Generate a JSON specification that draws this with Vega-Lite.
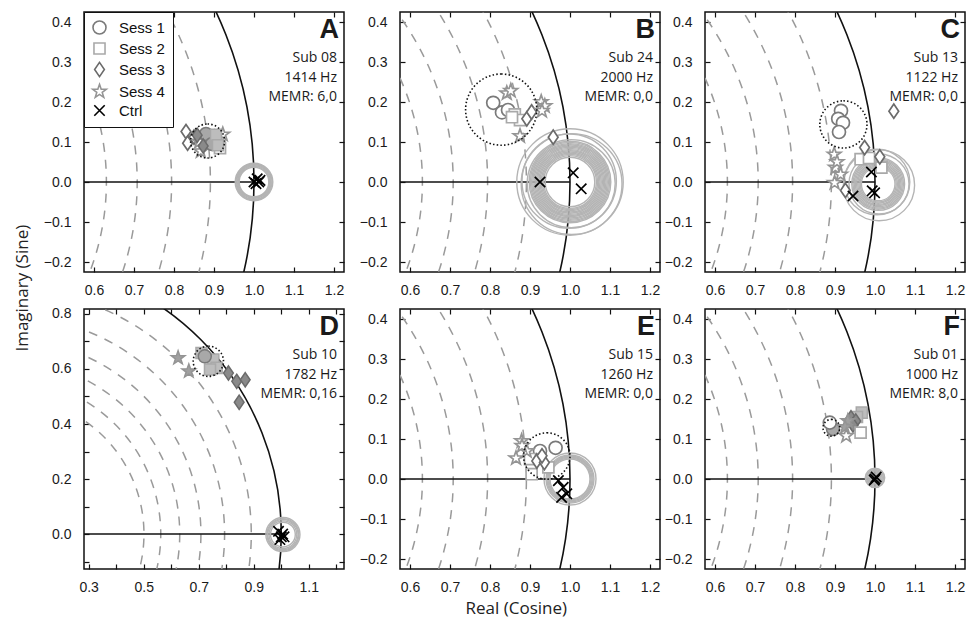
{
"$schema":"https://vega.github.io/schema/vega-lite/v6.json",
"padding":{"left":14,"top":10,"right":1,"bottom":2},
"background":"white",
"datasets":{
"levels":[{"cx":0,"cy":0,"r":0.501},{"cx":0,"cy":0,"r":0.562},{"cx":0,"cy":0,"r":0.631},{"cx":0,"cy":0,"r":0.708},{"cx":0,"cy":0,"r":0.794},{"cx":0,"cy":0,"r":0.891}],
"unit":[{"cx":0,"cy":0,"r":1}],
"axisline":[{"x":0,"x2":1,"y":0}],
"ci":[
{"panel":"A","cx":1.0,"cy":0.0,"r":0.037},{"panel":"A","cx":1.0,"cy":0.0,"r":0.039},{"panel":"A","cx":1.0,"cy":0.0,"r":0.041},{"panel":"A","cx":1.0,"cy":0.0,"r":0.043},{"panel":"A","cx":1.0,"cy":0.0,"r":0.045},{"panel":"A","cx":1.0,"cy":0.0,"r":0.047},
{"panel":"B","cx":1.0,"cy":0.0,"r":0.062},{"panel":"B","cx":1.0,"cy":0.0,"r":0.066},{"panel":"B","cx":1.0,"cy":0.0,"r":0.069},{"panel":"B","cx":1.0,"cy":0.0,"r":0.072},{"panel":"B","cx":1.0,"cy":0.0,"r":0.075},{"panel":"B","cx":1.0,"cy":0.0,"r":0.078},{"panel":"B","cx":1.0,"cy":0.0,"r":0.081},{"panel":"B","cx":1.0,"cy":0.0,"r":0.084},{"panel":"B","cx":1.0,"cy":0.0,"r":0.087},{"panel":"B","cx":1.0,"cy":0.0,"r":0.09},{"panel":"B","cx":1.0,"cy":0.0,"r":0.093},{"panel":"B","cx":1.0,"cy":0.0,"r":0.096},{"panel":"B","cx":1.0,"cy":0.0,"r":0.099},{"panel":"B","cx":1.0,"cy":0.0,"r":0.102},{"panel":"B","cx":1.003,"cy":-0.004,"r":0.11},{"panel":"B","cx":0.998,"cy":0.002,"r":0.118},{"panel":"B","cx":1.004,"cy":-0.005,"r":0.126},{"panel":"B","cx":1.0,"cy":0.0,"r":0.133},
{"panel":"C","cx":1.008,"cy":-0.005,"r":0.042},{"panel":"C","cx":1.008,"cy":-0.005,"r":0.045},{"panel":"C","cx":1.008,"cy":-0.005,"r":0.048},{"panel":"C","cx":1.008,"cy":-0.005,"r":0.051},{"panel":"C","cx":1.008,"cy":-0.005,"r":0.054},{"panel":"C","cx":1.008,"cy":-0.005,"r":0.057},{"panel":"C","cx":1.008,"cy":-0.005,"r":0.06},{"panel":"C","cx":1.008,"cy":-0.005,"r":0.063},{"panel":"C","cx":1.008,"cy":-0.005,"r":0.066},{"panel":"C","cx":1.01,"cy":-0.005,"r":0.075},{"panel":"C","cx":1.005,"cy":0.0,"r":0.082},{"panel":"C","cx":1.01,"cy":-0.008,"r":0.089},
{"panel":"D","cx":1.006,"cy":-0.002,"r":0.045},{"panel":"D","cx":1.006,"cy":-0.002,"r":0.05},{"panel":"D","cx":1.006,"cy":-0.002,"r":0.055},{"panel":"D","cx":1.006,"cy":-0.002,"r":0.058},{"panel":"D","cx":1.006,"cy":-0.002,"r":0.062},
{"panel":"E","cx":1.0,"cy":0.0,"r":0.05},{"panel":"E","cx":1.0,"cy":0.0,"r":0.0525},{"panel":"E","cx":1.0,"cy":0.0,"r":0.055},{"panel":"E","cx":1.0,"cy":0.0,"r":0.0575},{"panel":"E","cx":1.0,"cy":0.0,"r":0.06},{"panel":"E","cx":1.0,"cy":0.0,"r":0.065},
{"panel":"F","cx":1.0,"cy":0.003,"r":0.003},{"panel":"F","cx":1.0,"cy":0.003,"r":0.006},{"panel":"F","cx":1.0,"cy":0.003,"r":0.009},{"panel":"F","cx":1.0,"cy":0.003,"r":0.012},{"panel":"F","cx":1.0,"cy":0.003,"r":0.015},{"panel":"F","cx":1.0,"cy":0.003,"r":0.018},{"panel":"F","cx":1.0,"cy":0.003,"r":0.021},{"panel":"F","cx":1.0,"cy":0.003,"r":0.024}
],
"conf":[
{"panel":"A","cx":0.884,"cy":0.1025,"r":0.0425},
{"panel":"B","cx":0.828,"cy":0.181,"r":0.089},
{"panel":"C","cx":0.921,"cy":0.144,"r":0.059},
{"panel":"D","cx":0.735,"cy":0.628,"r":0.055},
{"panel":"E","cx":0.942,"cy":0.0575,"r":0.058},
{"panel":"F","cx":0.891,"cy":0.128,"r":0.021}
],
"pts":[
{"panel":"A","sess":"Sess 3","re":0.83,"im":0.126,"memr":"no"},
{"panel":"A","sess":"Sess 3","re":0.834,"im":0.097,"memr":"no"},
{"panel":"A","sess":"Sess 3","re":0.85,"im":0.112,"memr":"no"},
{"panel":"A","sess":"Sess 2","re":0.915,"im":0.085,"memr":"no"},
{"panel":"A","sess":"Sess 4","re":0.863,"im":0.101,"memr":"no"},
{"panel":"A","sess":"Sess 4","re":0.901,"im":0.111,"memr":"no"},
{"panel":"A","sess":"Sess 4","re":0.867,"im":0.077,"memr":"no"},
{"panel":"A","sess":"Sess 4","re":0.922,"im":0.119,"memr":"no"},
{"panel":"A","sess":"Sess 1","re":0.88,"im":0.12,"memr":"yes"},
{"panel":"A","sess":"Sess 1","re":0.895,"im":0.095,"memr":"yes"},
{"panel":"A","sess":"Sess 2","re":0.905,"im":0.118,"memr":"yes"},
{"panel":"A","sess":"Sess 2","re":0.91,"im":0.092,"memr":"yes"},
{"panel":"A","sess":"Sess 3","re":0.858,"im":0.117,"memr":"yes"},
{"panel":"A","sess":"Sess 3","re":0.873,"im":0.09,"memr":"yes"},
{"panel":"A","sess":"Ctrl","re":1.0,"im":0.0,"memr":"no"},
{"panel":"A","sess":"Ctrl","re":1.008,"im":0.008,"memr":"no"},
{"panel":"A","sess":"Ctrl","re":1.015,"im":0.004,"memr":"no"},
{"panel":"A","sess":"Ctrl","re":1.005,"im":-0.004,"memr":"no"},
{"panel":"A","sess":"Ctrl","re":1.012,"im":0.0,"memr":"no"},
{"panel":"B","sess":"Sess 1","re":0.808,"im":0.198,"memr":"no"},
{"panel":"B","sess":"Sess 1","re":0.83,"im":0.174,"memr":"no"},
{"panel":"B","sess":"Sess 1","re":0.845,"im":0.18,"memr":"no"},
{"panel":"B","sess":"Sess 2","re":0.862,"im":0.169,"memr":"no"},
{"panel":"B","sess":"Sess 2","re":0.875,"im":0.155,"memr":"no"},
{"panel":"B","sess":"Sess 2","re":0.855,"im":0.162,"memr":"no"},
{"panel":"B","sess":"Sess 3","re":0.892,"im":0.158,"memr":"no"},
{"panel":"B","sess":"Sess 3","re":0.904,"im":0.175,"memr":"no"},
{"panel":"B","sess":"Sess 3","re":0.958,"im":0.112,"memr":"no"},
{"panel":"B","sess":"Sess 4","re":0.842,"im":0.222,"memr":"no"},
{"panel":"B","sess":"Sess 4","re":0.852,"im":0.228,"memr":"no"},
{"panel":"B","sess":"Sess 4","re":0.928,"im":0.2,"memr":"no"},
{"panel":"B","sess":"Sess 4","re":0.937,"im":0.19,"memr":"no"},
{"panel":"B","sess":"Sess 4","re":0.93,"im":0.178,"memr":"no"},
{"panel":"B","sess":"Sess 4","re":0.875,"im":0.115,"memr":"no"},
{"panel":"B","sess":"Ctrl","re":0.925,"im":0.0,"memr":"no"},
{"panel":"B","sess":"Ctrl","re":1.008,"im":0.023,"memr":"no"},
{"panel":"B","sess":"Ctrl","re":1.028,"im":-0.017,"memr":"no"},
{"panel":"C","sess":"Sess 1","re":0.915,"im":0.178,"memr":"no"},
{"panel":"C","sess":"Sess 1","re":0.908,"im":0.158,"memr":"no"},
{"panel":"C","sess":"Sess 1","re":0.92,"im":0.148,"memr":"no"},
{"panel":"C","sess":"Sess 1","re":0.91,"im":0.125,"memr":"no"},
{"panel":"C","sess":"Sess 2","re":0.964,"im":0.057,"memr":"no"},
{"panel":"C","sess":"Sess 2","re":1.016,"im":0.036,"memr":"no"},
{"panel":"C","sess":"Sess 2","re":0.985,"im":0.06,"memr":"no"},
{"panel":"C","sess":"Sess 3","re":1.047,"im":0.177,"memr":"no"},
{"panel":"C","sess":"Sess 3","re":0.974,"im":0.086,"memr":"no"},
{"panel":"C","sess":"Sess 3","re":1.012,"im":0.063,"memr":"no"},
{"panel":"C","sess":"Sess 3","re":0.926,"im":-0.021,"memr":"no"},
{"panel":"C","sess":"Sess 4","re":0.898,"im":0.069,"memr":"no"},
{"panel":"C","sess":"Sess 4","re":0.901,"im":0.036,"memr":"no"},
{"panel":"C","sess":"Sess 4","re":0.914,"im":0.019,"memr":"no"},
{"panel":"C","sess":"Sess 4","re":0.899,"im":-0.002,"memr":"no"},
{"panel":"C","sess":"Sess 4","re":0.905,"im":0.05,"memr":"no"},
{"panel":"C","sess":"Ctrl","re":0.991,"im":0.025,"memr":"no"},
{"panel":"C","sess":"Ctrl","re":0.993,"im":-0.022,"memr":"no"},
{"panel":"C","sess":"Ctrl","re":0.999,"im":-0.027,"memr":"no"},
{"panel":"C","sess":"Ctrl","re":0.945,"im":-0.035,"memr":"no"},
{"panel":"D","sess":"Sess 4","re":0.625,"im":0.64,"memr":"yes"},
{"panel":"D","sess":"Sess 4","re":0.664,"im":0.592,"memr":"yes"},
{"panel":"D","sess":"Sess 2","re":0.71,"im":0.658,"memr":"yes"},
{"panel":"D","sess":"Sess 2","re":0.753,"im":0.634,"memr":"yes"},
{"panel":"D","sess":"Sess 2","re":0.765,"im":0.604,"memr":"yes"},
{"panel":"D","sess":"Sess 2","re":0.741,"im":0.598,"memr":"yes"},
{"panel":"D","sess":"Sess 1","re":0.722,"im":0.646,"memr":"yes"},
{"panel":"D","sess":"Sess 3","re":0.808,"im":0.585,"memr":"yes"},
{"panel":"D","sess":"Sess 3","re":0.838,"im":0.555,"memr":"yes"},
{"panel":"D","sess":"Sess 3","re":0.869,"im":0.561,"memr":"yes"},
{"panel":"D","sess":"Sess 3","re":0.847,"im":0.479,"memr":"yes"},
{"panel":"D","sess":"Ctrl","re":0.99,"im":0.01,"memr":"no"},
{"panel":"D","sess":"Ctrl","re":1.0,"im":-0.01,"memr":"no"},
{"panel":"D","sess":"Ctrl","re":1.005,"im":0.0,"memr":"no"},
{"panel":"D","sess":"Ctrl","re":0.995,"im":-0.02,"memr":"no"},
{"panel":"D","sess":"Ctrl","re":1.01,"im":-0.01,"memr":"no"},
{"panel":"E","sess":"Sess 1","re":0.964,"im":0.078,"memr":"no"},
{"panel":"E","sess":"Sess 1","re":0.925,"im":0.07,"memr":"no"},
{"panel":"E","sess":"Sess 2","re":0.904,"im":0.012,"memr":"no"},
{"panel":"E","sess":"Sess 2","re":0.946,"im":0.029,"memr":"no"},
{"panel":"E","sess":"Sess 2","re":0.9,"im":0.05,"memr":"no"},
{"panel":"E","sess":"Sess 3","re":0.917,"im":0.045,"memr":"no"},
{"panel":"E","sess":"Sess 3","re":0.936,"im":0.041,"memr":"no"},
{"panel":"E","sess":"Sess 3","re":0.93,"im":0.058,"memr":"no"},
{"panel":"E","sess":"Sess 4","re":0.879,"im":0.095,"memr":"no"},
{"panel":"E","sess":"Sess 4","re":0.865,"im":0.052,"memr":"no"},
{"panel":"E","sess":"Sess 4","re":0.892,"im":0.07,"memr":"no"},
{"panel":"E","sess":"Sess 4","re":0.88,"im":0.083,"memr":"no"},
{"panel":"E","sess":"Ctrl","re":0.971,"im":-0.004,"memr":"no"},
{"panel":"E","sess":"Ctrl","re":0.983,"im":-0.021,"memr":"no"},
{"panel":"E","sess":"Ctrl","re":0.979,"im":-0.046,"memr":"no"},
{"panel":"E","sess":"Ctrl","re":0.992,"im":-0.037,"memr":"no"},
{"panel":"F","sess":"Sess 1","re":0.887,"im":0.141,"memr":"no"},
{"panel":"F","sess":"Sess 2","re":0.964,"im":0.116,"memr":"no"},
{"panel":"F","sess":"Sess 4","re":0.928,"im":0.108,"memr":"no"},
{"panel":"F","sess":"Sess 1","re":0.895,"im":0.125,"memr":"yes"},
{"panel":"F","sess":"Sess 2","re":0.967,"im":0.166,"memr":"yes"},
{"panel":"F","sess":"Sess 2","re":0.955,"im":0.155,"memr":"yes"},
{"panel":"F","sess":"Sess 3","re":0.94,"im":0.153,"memr":"yes"},
{"panel":"F","sess":"Sess 3","re":0.952,"im":0.145,"memr":"yes"},
{"panel":"F","sess":"Sess 3","re":0.945,"im":0.135,"memr":"yes"},
{"panel":"F","sess":"Sess 4","re":0.932,"im":0.145,"memr":"yes"},
{"panel":"F","sess":"Sess 4","re":0.925,"im":0.13,"memr":"yes"},
{"panel":"F","sess":"Ctrl","re":1.0,"im":0.0,"memr":"no"},
{"panel":"F","sess":"Ctrl","re":1.003,"im":0.005,"memr":"no"},
{"panel":"F","sess":"Ctrl","re":0.998,"im":-0.003,"memr":"no"}
],
"labels":[
{"panel":"A","letter":"A","info":["Sub 08","1414 Hz","MEMR: 6,0"]},
{"panel":"B","letter":"B","info":["Sub 24","2000 Hz","MEMR: 0,0"]},
{"panel":"C","letter":"C","info":["Sub 13","1122 Hz","MEMR: 0,0"]},
{"panel":"D","letter":"D","info":["Sub 10","1782 Hz","MEMR: 0,16"]},
{"panel":"E","letter":"E","info":["Sub 15","1260 Hz","MEMR: 0,0"]},
{"panel":"F","letter":"F","info":["Sub 01","1000 Hz","MEMR: 8,0"]}
]
},
"title":{"text":"Real (Cosine)","orient":"bottom","anchor":"middle","font":"Open Sans","fontSize":17,"fontWeight":"normal","color":"#222","offset":5,"dx":26},
"resolve":{"scale":{"x":"independent","y":"independent","radius":"independent","shape":"independent","stroke":"independent","fill":"independent"},"legend":{"shape":"independent","stroke":"independent","fill":"independent"}},
"vconcat":[{
"title":{"text":"Imaginary (Sine)","orient":"left","anchor":"middle","font":"Open Sans","fontSize":17,"fontWeight":"normal","color":"#222","offset":10,"dx":15},
"spacing":7,
"resolve":{"scale":{"x":"independent","y":"independent","radius":"independent","shape":"independent","stroke":"independent","fill":"independent"},"legend":{"shape":"independent","stroke":"independent","fill":"independent"}},
"vconcat":[
{"hconcat":[
{"width":260,"height":260,"resolve":{"axis":{"x":"independent","y":"independent"}},"layer":[
{"data":{"name":"levels"},"mark":{"type":"arc","clip":true,"theta":0,"theta2":6.2832,"fill":"white","fillOpacity":0,"stroke":"#9a9a9a","strokeWidth":1.5,"strokeDash":[9,8]},"encoding":{"x":{"field":"cx","type":"quantitative","scale":{"domain":[0.575,1.225],"nice":false,"zero":false},"axis":{"orient":"bottom","values":[0.6,0.7,0.8,0.9,1,1.1,1.2],"format":".1f","title":null}},"y":{"field":"cy","type":"quantitative","scale":{"domain":[-0.225,0.425],"nice":false,"zero":false},"axis":{"orient":"left","values":[-0.2,-0.1,0,0.1,0.2,0.3,0.4],"format":".1f","title":null}},"radius":{"field":"r","type":"quantitative","stack":null,"scale":{"type":"linear","domain":[0,1],"range":[0,400],"zero":true,"nice":false}}}},
{"data":{"name":"unit"},"mark":{"type":"arc","clip":true,"theta":0,"theta2":6.2832,"fill":"white","fillOpacity":0,"stroke":"#111","strokeWidth":1.6},"encoding":{"x":{"field":"cx","type":"quantitative","scale":{"domain":[0.575,1.225],"nice":false,"zero":false},"axis":{"orient":"top","values":[0.6,0.7,0.8,0.9,1,1.1,1.2],"labels":false,"title":null,"minExtent":0,"maxExtent":0}},"y":{"field":"cy","type":"quantitative","scale":{"domain":[-0.225,0.425],"nice":false,"zero":false},"axis":{"orient":"right","values":[-0.2,-0.1,0,0.1,0.2,0.3,0.4],"labels":false,"title":null,"minExtent":0,"maxExtent":0}},"radius":{"field":"r","type":"quantitative","stack":null,"scale":{"type":"linear","domain":[0,1],"range":[0,400],"zero":true,"nice":false}}}},
{"data":{"name":"axisline"},"mark":{"type":"rule","clip":true,"stroke":"#111","strokeWidth":1.6},"encoding":{"x":{"field":"x","type":"quantitative","scale":{"domain":[0.575,1.225],"nice":false,"zero":false},"axis":null},"x2":{"field":"x2"},"y":{"field":"y","type":"quantitative","scale":{"domain":[-0.225,0.425],"nice":false,"zero":false},"axis":null}}},
{"data":{"name":"ci"},"transform":[{"filter":"datum.panel=='A'"}],"mark":{"type":"arc","clip":true,"theta":0,"theta2":6.2832,"fill":"white","fillOpacity":0,"stroke":"#b4b4b4","strokeWidth":1.4},"encoding":{"x":{"field":"cx","type":"quantitative","scale":{"domain":[0.575,1.225],"nice":false,"zero":false},"axis":null},"y":{"field":"cy","type":"quantitative","scale":{"domain":[-0.225,0.425],"nice":false,"zero":false},"axis":null},"radius":{"field":"r","type":"quantitative","stack":null,"scale":{"type":"linear","domain":[0,1],"range":[0,400],"zero":true,"nice":false}}}},
{"data":{"name":"pts"},"transform":[{"filter":"datum.panel=='A' && datum.memr=='no'"}],"mark":{"type":"point","clip":true,"opacity":1,"strokeWidth":1.7},"encoding":{"x":{"field":"re","type":"quantitative","scale":{"domain":[0.575,1.225],"nice":false,"zero":false},"axis":null},"y":{"field":"im","type":"quantitative","scale":{"domain":[-0.225,0.425],"nice":false,"zero":false},"axis":null},"shape":{"field":"sess","type":"nominal","scale":{"domain":["Sess 1","Sess 2","Sess 3","Sess 4","Ctrl"],"range":["M1,0A1,1,0,1,1,-1,0A1,1,0,1,1,1,0Z","M-0.85,-0.85L0.85,-0.85L0.85,0.85L-0.85,0.85Z","M0,-1.1L0.75,0L0,1.1L-0.75,0Z","M0,-1.1L0.26,-0.36L1.05,-0.34L0.42,0.14L0.65,0.89L0,0.44L-0.65,0.89L-0.42,0.14L-1.05,-0.34L-0.26,-0.36Z","M-0.8,-0.8L0.8,0.8M-0.8,0.8L0.8,-0.8"]},"legend":{"orient":"top-left","offset":0,"title":null,"strokeColor":"#111","fillColor":"white","padding":8,"labelFont":"Liberation Sans","labelFontSize":15,"labelColor":"#111","symbolSize":169,"symbolStrokeWidth":1.6,"rowPadding":1,"labelOffset":12,"encode":{"symbols":{"update":{"fill":{"value":"white"}}}}}},"stroke":{"field":"sess","type":"nominal","scale":{"domain":["Sess 1","Sess 2","Sess 3","Sess 4","Ctrl"],"range":["#7a7a7a","#a9a9a9","#6b6b6b","#949494","#000000"]},"legend":{"orient":"top-left","offset":0,"title":null,"strokeColor":"#111","fillColor":"white","padding":8,"labelFont":"Liberation Sans","labelFontSize":15,"labelColor":"#111","symbolSize":169,"symbolStrokeWidth":1.6,"rowPadding":1,"labelOffset":12,"encode":{"symbols":{"update":{"fill":{"value":"white"}}}}}},"fill":{"value":"white"},"size":{"value":169}}},
{"data":{"name":"pts"},"transform":[{"filter":"datum.panel=='A' && datum.memr=='yes'"}],"mark":{"type":"point","clip":true,"opacity":1,"strokeWidth":1.5},"encoding":{"x":{"field":"re","type":"quantitative","scale":{"domain":[0.575,1.225],"nice":false,"zero":false},"axis":null},"y":{"field":"im","type":"quantitative","scale":{"domain":[-0.225,0.425],"nice":false,"zero":false},"axis":null},"shape":{"field":"sess","type":"nominal","scale":{"domain":["Sess 1","Sess 2","Sess 3","Sess 4","Ctrl"],"range":["M1,0A1,1,0,1,1,-1,0A1,1,0,1,1,1,0Z","M-0.85,-0.85L0.85,-0.85L0.85,0.85L-0.85,0.85Z","M0,-1.1L0.75,0L0,1.1L-0.75,0Z","M0,-1.1L0.26,-0.36L1.05,-0.34L0.42,0.14L0.65,0.89L0,0.44L-0.65,0.89L-0.42,0.14L-1.05,-0.34L-0.26,-0.36Z","M-0.8,-0.8L0.8,0.8M-0.8,0.8L0.8,-0.8"]},"legend":null},"stroke":{"field":"sess","type":"nominal","scale":{"domain":["Sess 1","Sess 2","Sess 3","Sess 4","Ctrl"],"range":["#7a7a7a","#a9a9a9","#6b6b6b","#949494","#000000"]},"legend":null},"fill":{"field":"sess","type":"nominal","scale":{"domain":["Sess 1","Sess 2","Sess 3","Sess 4"],"range":["#a8a8a8","#bdbdbd","#8a8a8a","#a0a0a0"]},"legend":null},"size":{"value":169}}},
{"data":{"name":"conf"},"transform":[{"filter":"datum.panel=='A'"}],"mark":{"type":"arc","clip":true,"theta":0,"theta2":6.2832,"fill":"white","fillOpacity":0,"stroke":"#111","strokeWidth":1.6,"strokeDash":[1.5,2.2]},"encoding":{"x":{"field":"cx","type":"quantitative","scale":{"domain":[0.575,1.225],"nice":false,"zero":false},"axis":null},"y":{"field":"cy","type":"quantitative","scale":{"domain":[-0.225,0.425],"nice":false,"zero":false},"axis":null},"radius":{"field":"r","type":"quantitative","stack":null,"scale":{"type":"linear","domain":[0,1],"range":[0,400],"zero":true,"nice":false}}}},
{"data":{"name":"labels"},"transform":[{"filter":"datum.panel=='A'"}],"mark":{"type":"text","align":"right","baseline":"alphabetic","font":"Liberation Sans","fontSize":27,"fontWeight":"bold","dx":-5,"color":"#1a1a1a"},"encoding":{"x":{"value":"width"},"y":{"value":26},"text":{"field":"letter"}}},
{"data":{"name":"labels"},"transform":[{"filter":"datum.panel=='A'"}],"mark":{"type":"text","align":"right","baseline":"alphabetic","font":"Open Sans","fontSize":14,"lineHeight":19.5,"dx":-7,"color":"#1a1a1a"},"encoding":{"x":{"value":"width"},"y":{"value":50},"text":{"field":"info"}}}
]},
{"width":260,"height":260,"resolve":{"axis":{"x":"independent","y":"independent"}},"layer":[
{"data":{"name":"levels"},"mark":{"type":"arc","clip":true,"theta":0,"theta2":6.2832,"fill":"white","fillOpacity":0,"stroke":"#9a9a9a","strokeWidth":1.5,"strokeDash":[9,8]},"encoding":{"x":{"field":"cx","type":"quantitative","scale":{"domain":[0.575,1.225],"nice":false,"zero":false},"axis":{"orient":"bottom","values":[0.6,0.7,0.8,0.9,1,1.1,1.2],"format":".1f","title":null}},"y":{"field":"cy","type":"quantitative","scale":{"domain":[-0.225,0.425],"nice":false,"zero":false},"axis":{"orient":"left","values":[-0.2,-0.1,0,0.1,0.2,0.3,0.4],"format":".1f","title":null,"minExtent":52,"maxExtent":52}},"radius":{"field":"r","type":"quantitative","stack":null,"scale":{"type":"linear","domain":[0,1],"range":[0,400],"zero":true,"nice":false}}}},
{"data":{"name":"unit"},"mark":{"type":"arc","clip":true,"theta":0,"theta2":6.2832,"fill":"white","fillOpacity":0,"stroke":"#111","strokeWidth":1.6},"encoding":{"x":{"field":"cx","type":"quantitative","scale":{"domain":[0.575,1.225],"nice":false,"zero":false},"axis":{"orient":"top","values":[0.6,0.7,0.8,0.9,1,1.1,1.2],"labels":false,"title":null,"minExtent":0,"maxExtent":0}},"y":{"field":"cy","type":"quantitative","scale":{"domain":[-0.225,0.425],"nice":false,"zero":false},"axis":{"orient":"right","values":[-0.2,-0.1,0,0.1,0.2,0.3,0.4],"labels":false,"title":null,"minExtent":0,"maxExtent":0}},"radius":{"field":"r","type":"quantitative","stack":null,"scale":{"type":"linear","domain":[0,1],"range":[0,400],"zero":true,"nice":false}}}},
{"data":{"name":"axisline"},"mark":{"type":"rule","clip":true,"stroke":"#111","strokeWidth":1.6},"encoding":{"x":{"field":"x","type":"quantitative","scale":{"domain":[0.575,1.225],"nice":false,"zero":false},"axis":null},"x2":{"field":"x2"},"y":{"field":"y","type":"quantitative","scale":{"domain":[-0.225,0.425],"nice":false,"zero":false},"axis":null}}},
{"data":{"name":"ci"},"transform":[{"filter":"datum.panel=='B'"}],"mark":{"type":"arc","clip":true,"theta":0,"theta2":6.2832,"fill":"white","fillOpacity":0,"stroke":"#b4b4b4","strokeWidth":1.4},"encoding":{"x":{"field":"cx","type":"quantitative","scale":{"domain":[0.575,1.225],"nice":false,"zero":false},"axis":null},"y":{"field":"cy","type":"quantitative","scale":{"domain":[-0.225,0.425],"nice":false,"zero":false},"axis":null},"radius":{"field":"r","type":"quantitative","stack":null,"scale":{"type":"linear","domain":[0,1],"range":[0,400],"zero":true,"nice":false}}}},
{"data":{"name":"pts"},"transform":[{"filter":"datum.panel=='B' && datum.memr=='no'"}],"mark":{"type":"point","clip":true,"opacity":1,"strokeWidth":1.7},"encoding":{"x":{"field":"re","type":"quantitative","scale":{"domain":[0.575,1.225],"nice":false,"zero":false},"axis":null},"y":{"field":"im","type":"quantitative","scale":{"domain":[-0.225,0.425],"nice":false,"zero":false},"axis":null},"shape":{"field":"sess","type":"nominal","scale":{"domain":["Sess 1","Sess 2","Sess 3","Sess 4","Ctrl"],"range":["M1,0A1,1,0,1,1,-1,0A1,1,0,1,1,1,0Z","M-0.85,-0.85L0.85,-0.85L0.85,0.85L-0.85,0.85Z","M0,-1.1L0.75,0L0,1.1L-0.75,0Z","M0,-1.1L0.26,-0.36L1.05,-0.34L0.42,0.14L0.65,0.89L0,0.44L-0.65,0.89L-0.42,0.14L-1.05,-0.34L-0.26,-0.36Z","M-0.8,-0.8L0.8,0.8M-0.8,0.8L0.8,-0.8"]},"legend":null},"stroke":{"field":"sess","type":"nominal","scale":{"domain":["Sess 1","Sess 2","Sess 3","Sess 4","Ctrl"],"range":["#7a7a7a","#a9a9a9","#6b6b6b","#949494","#000000"]},"legend":null},"fill":{"value":"white"},"size":{"value":169}}},
{"data":{"name":"conf"},"transform":[{"filter":"datum.panel=='B'"}],"mark":{"type":"arc","clip":true,"theta":0,"theta2":6.2832,"fill":"white","fillOpacity":0,"stroke":"#111","strokeWidth":1.6,"strokeDash":[1.5,2.2]},"encoding":{"x":{"field":"cx","type":"quantitative","scale":{"domain":[0.575,1.225],"nice":false,"zero":false},"axis":null},"y":{"field":"cy","type":"quantitative","scale":{"domain":[-0.225,0.425],"nice":false,"zero":false},"axis":null},"radius":{"field":"r","type":"quantitative","stack":null,"scale":{"type":"linear","domain":[0,1],"range":[0,400],"zero":true,"nice":false}}}},
{"data":{"name":"labels"},"transform":[{"filter":"datum.panel=='B'"}],"mark":{"type":"text","align":"right","baseline":"alphabetic","font":"Liberation Sans","fontSize":27,"fontWeight":"bold","dx":-5,"color":"#1a1a1a"},"encoding":{"x":{"value":"width"},"y":{"value":26},"text":{"field":"letter"}}},
{"data":{"name":"labels"},"transform":[{"filter":"datum.panel=='B'"}],"mark":{"type":"text","align":"right","baseline":"alphabetic","font":"Open Sans","fontSize":14,"lineHeight":19.5,"dx":-7,"color":"#1a1a1a"},"encoding":{"x":{"value":"width"},"y":{"value":50},"text":{"field":"info"}}}
]},
{"width":260,"height":260,"resolve":{"axis":{"x":"independent","y":"independent"}},"layer":[
{"data":{"name":"levels"},"mark":{"type":"arc","clip":true,"theta":0,"theta2":6.2832,"fill":"white","fillOpacity":0,"stroke":"#9a9a9a","strokeWidth":1.5,"strokeDash":[9,8]},"encoding":{"x":{"field":"cx","type":"quantitative","scale":{"domain":[0.575,1.225],"nice":false,"zero":false},"axis":{"orient":"bottom","values":[0.6,0.7,0.8,0.9,1,1.1,1.2],"format":".1f","title":null}},"y":{"field":"cy","type":"quantitative","scale":{"domain":[-0.225,0.425],"nice":false,"zero":false},"axis":{"orient":"left","values":[-0.2,-0.1,0,0.1,0.2,0.3,0.4],"format":".1f","title":null,"minExtent":34,"maxExtent":34}},"radius":{"field":"r","type":"quantitative","stack":null,"scale":{"type":"linear","domain":[0,1],"range":[0,400],"zero":true,"nice":false}}}},
{"data":{"name":"unit"},"mark":{"type":"arc","clip":true,"theta":0,"theta2":6.2832,"fill":"white","fillOpacity":0,"stroke":"#111","strokeWidth":1.6},"encoding":{"x":{"field":"cx","type":"quantitative","scale":{"domain":[0.575,1.225],"nice":false,"zero":false},"axis":{"orient":"top","values":[0.6,0.7,0.8,0.9,1,1.1,1.2],"labels":false,"title":null,"minExtent":0,"maxExtent":0}},"y":{"field":"cy","type":"quantitative","scale":{"domain":[-0.225,0.425],"nice":false,"zero":false},"axis":{"orient":"right","values":[-0.2,-0.1,0,0.1,0.2,0.3,0.4],"labels":false,"title":null,"minExtent":0,"maxExtent":0}},"radius":{"field":"r","type":"quantitative","stack":null,"scale":{"type":"linear","domain":[0,1],"range":[0,400],"zero":true,"nice":false}}}},
{"data":{"name":"axisline"},"mark":{"type":"rule","clip":true,"stroke":"#111","strokeWidth":1.6},"encoding":{"x":{"field":"x","type":"quantitative","scale":{"domain":[0.575,1.225],"nice":false,"zero":false},"axis":null},"x2":{"field":"x2"},"y":{"field":"y","type":"quantitative","scale":{"domain":[-0.225,0.425],"nice":false,"zero":false},"axis":null}}},
{"data":{"name":"ci"},"transform":[{"filter":"datum.panel=='C'"}],"mark":{"type":"arc","clip":true,"theta":0,"theta2":6.2832,"fill":"white","fillOpacity":0,"stroke":"#b4b4b4","strokeWidth":1.4},"encoding":{"x":{"field":"cx","type":"quantitative","scale":{"domain":[0.575,1.225],"nice":false,"zero":false},"axis":null},"y":{"field":"cy","type":"quantitative","scale":{"domain":[-0.225,0.425],"nice":false,"zero":false},"axis":null},"radius":{"field":"r","type":"quantitative","stack":null,"scale":{"type":"linear","domain":[0,1],"range":[0,400],"zero":true,"nice":false}}}},
{"data":{"name":"pts"},"transform":[{"filter":"datum.panel=='C' && datum.memr=='no'"}],"mark":{"type":"point","clip":true,"opacity":1,"strokeWidth":1.7},"encoding":{"x":{"field":"re","type":"quantitative","scale":{"domain":[0.575,1.225],"nice":false,"zero":false},"axis":null},"y":{"field":"im","type":"quantitative","scale":{"domain":[-0.225,0.425],"nice":false,"zero":false},"axis":null},"shape":{"field":"sess","type":"nominal","scale":{"domain":["Sess 1","Sess 2","Sess 3","Sess 4","Ctrl"],"range":["M1,0A1,1,0,1,1,-1,0A1,1,0,1,1,1,0Z","M-0.85,-0.85L0.85,-0.85L0.85,0.85L-0.85,0.85Z","M0,-1.1L0.75,0L0,1.1L-0.75,0Z","M0,-1.1L0.26,-0.36L1.05,-0.34L0.42,0.14L0.65,0.89L0,0.44L-0.65,0.89L-0.42,0.14L-1.05,-0.34L-0.26,-0.36Z","M-0.8,-0.8L0.8,0.8M-0.8,0.8L0.8,-0.8"]},"legend":null},"stroke":{"field":"sess","type":"nominal","scale":{"domain":["Sess 1","Sess 2","Sess 3","Sess 4","Ctrl"],"range":["#7a7a7a","#a9a9a9","#6b6b6b","#949494","#000000"]},"legend":null},"fill":{"value":"white"},"size":{"value":169}}},
{"data":{"name":"conf"},"transform":[{"filter":"datum.panel=='C'"}],"mark":{"type":"arc","clip":true,"theta":0,"theta2":6.2832,"fill":"white","fillOpacity":0,"stroke":"#111","strokeWidth":1.6,"strokeDash":[1.5,2.2]},"encoding":{"x":{"field":"cx","type":"quantitative","scale":{"domain":[0.575,1.225],"nice":false,"zero":false},"axis":null},"y":{"field":"cy","type":"quantitative","scale":{"domain":[-0.225,0.425],"nice":false,"zero":false},"axis":null},"radius":{"field":"r","type":"quantitative","stack":null,"scale":{"type":"linear","domain":[0,1],"range":[0,400],"zero":true,"nice":false}}}},
{"data":{"name":"labels"},"transform":[{"filter":"datum.panel=='C'"}],"mark":{"type":"text","align":"right","baseline":"alphabetic","font":"Liberation Sans","fontSize":27,"fontWeight":"bold","dx":-5,"color":"#1a1a1a"},"encoding":{"x":{"value":"width"},"y":{"value":26},"text":{"field":"letter"}}},
{"data":{"name":"labels"},"transform":[{"filter":"datum.panel=='C'"}],"mark":{"type":"text","align":"right","baseline":"alphabetic","font":"Open Sans","fontSize":14,"lineHeight":19.5,"dx":-7,"color":"#1a1a1a"},"encoding":{"x":{"value":"width"},"y":{"value":50},"text":{"field":"info"}}}
]}
],"spacing":1,"resolve":{"scale":{"x":"independent","y":"independent","radius":"independent","shape":"independent","stroke":"independent","fill":"independent"},"legend":{"shape":"independent","stroke":"independent","fill":"independent"}}},
{"hconcat":[
{"width":260,"height":260,"resolve":{"axis":{"x":"independent","y":"independent"}},"layer":[
{"data":{"name":"levels"},"mark":{"type":"arc","clip":true,"theta":0,"theta2":6.2832,"fill":"white","fillOpacity":0,"stroke":"#9a9a9a","strokeWidth":1.5,"strokeDash":[9,8]},"encoding":{"x":{"field":"cx","type":"quantitative","scale":{"domain":[0.283,1.228],"nice":false,"zero":false},"axis":{"orient":"bottom","values":[0.3,0.4,0.5,0.6,0.7,0.8,0.9,1,1.1,1.2],"format":".1f","labelExpr":"indexof(['0.3','0.5','0.7','0.9','1.1'], datum.label) >= 0 ? datum.label : ''","title":null}},"y":{"field":"cy","type":"quantitative","scale":{"domain":[-0.127,0.818],"nice":false,"zero":false},"axis":{"orient":"left","values":[-0.1,0,0.1,0.2,0.3,0.4,0.5,0.6,0.7,0.8],"format":".1f","labelExpr":"indexof(['0.0','0.2','0.4','0.6','0.8'], datum.label) >= 0 ? datum.label : ''","title":null}},"radius":{"field":"r","type":"quantitative","stack":null,"scale":{"type":"linear","domain":[0,1],"range":[0,275.13],"zero":true,"nice":false}}}},
{"data":{"name":"unit"},"mark":{"type":"arc","clip":true,"theta":0,"theta2":6.2832,"fill":"white","fillOpacity":0,"stroke":"#111","strokeWidth":1.6},"encoding":{"x":{"field":"cx","type":"quantitative","scale":{"domain":[0.283,1.228],"nice":false,"zero":false},"axis":{"orient":"top","values":[0.3,0.4,0.5,0.6,0.7,0.8,0.9,1,1.1,1.2],"labels":false,"title":null,"minExtent":0,"maxExtent":0}},"y":{"field":"cy","type":"quantitative","scale":{"domain":[-0.127,0.818],"nice":false,"zero":false},"axis":{"orient":"right","values":[-0.1,0,0.1,0.2,0.3,0.4,0.5,0.6,0.7,0.8],"labels":false,"title":null,"minExtent":0,"maxExtent":0}},"radius":{"field":"r","type":"quantitative","stack":null,"scale":{"type":"linear","domain":[0,1],"range":[0,275.13],"zero":true,"nice":false}}}},
{"data":{"name":"axisline"},"mark":{"type":"rule","clip":true,"stroke":"#111","strokeWidth":1.6},"encoding":{"x":{"field":"x","type":"quantitative","scale":{"domain":[0.283,1.228],"nice":false,"zero":false},"axis":null},"x2":{"field":"x2"},"y":{"field":"y","type":"quantitative","scale":{"domain":[-0.127,0.818],"nice":false,"zero":false},"axis":null}}},
{"data":{"name":"ci"},"transform":[{"filter":"datum.panel=='D'"}],"mark":{"type":"arc","clip":true,"theta":0,"theta2":6.2832,"fill":"white","fillOpacity":0,"stroke":"#b4b4b4","strokeWidth":1.4},"encoding":{"x":{"field":"cx","type":"quantitative","scale":{"domain":[0.283,1.228],"nice":false,"zero":false},"axis":null},"y":{"field":"cy","type":"quantitative","scale":{"domain":[-0.127,0.818],"nice":false,"zero":false},"axis":null},"radius":{"field":"r","type":"quantitative","stack":null,"scale":{"type":"linear","domain":[0,1],"range":[0,275.13],"zero":true,"nice":false}}}},
{"data":{"name":"pts"},"transform":[{"filter":"datum.panel=='D' && datum.memr=='yes'"}],"mark":{"type":"point","clip":true,"opacity":1,"strokeWidth":1.5},"encoding":{"x":{"field":"re","type":"quantitative","scale":{"domain":[0.283,1.228],"nice":false,"zero":false},"axis":null},"y":{"field":"im","type":"quantitative","scale":{"domain":[-0.127,0.818],"nice":false,"zero":false},"axis":null},"shape":{"field":"sess","type":"nominal","scale":{"domain":["Sess 1","Sess 2","Sess 3","Sess 4","Ctrl"],"range":["M1,0A1,1,0,1,1,-1,0A1,1,0,1,1,1,0Z","M-0.85,-0.85L0.85,-0.85L0.85,0.85L-0.85,0.85Z","M0,-1.1L0.75,0L0,1.1L-0.75,0Z","M0,-1.1L0.26,-0.36L1.05,-0.34L0.42,0.14L0.65,0.89L0,0.44L-0.65,0.89L-0.42,0.14L-1.05,-0.34L-0.26,-0.36Z","M-0.8,-0.8L0.8,0.8M-0.8,0.8L0.8,-0.8"]},"legend":null},"stroke":{"field":"sess","type":"nominal","scale":{"domain":["Sess 1","Sess 2","Sess 3","Sess 4","Ctrl"],"range":["#7a7a7a","#a9a9a9","#6b6b6b","#949494","#000000"]},"legend":null},"fill":{"field":"sess","type":"nominal","scale":{"domain":["Sess 1","Sess 2","Sess 3","Sess 4"],"range":["#a8a8a8","#bdbdbd","#8a8a8a","#a0a0a0"]},"legend":null},"size":{"value":169}}},
{"data":{"name":"pts"},"transform":[{"filter":"datum.panel=='D' && datum.memr=='no'"}],"mark":{"type":"point","clip":true,"opacity":1,"strokeWidth":1.7},"encoding":{"x":{"field":"re","type":"quantitative","scale":{"domain":[0.283,1.228],"nice":false,"zero":false},"axis":null},"y":{"field":"im","type":"quantitative","scale":{"domain":[-0.127,0.818],"nice":false,"zero":false},"axis":null},"shape":{"field":"sess","type":"nominal","scale":{"domain":["Sess 1","Sess 2","Sess 3","Sess 4","Ctrl"],"range":["M1,0A1,1,0,1,1,-1,0A1,1,0,1,1,1,0Z","M-0.85,-0.85L0.85,-0.85L0.85,0.85L-0.85,0.85Z","M0,-1.1L0.75,0L0,1.1L-0.75,0Z","M0,-1.1L0.26,-0.36L1.05,-0.34L0.42,0.14L0.65,0.89L0,0.44L-0.65,0.89L-0.42,0.14L-1.05,-0.34L-0.26,-0.36Z","M-0.8,-0.8L0.8,0.8M-0.8,0.8L0.8,-0.8"]},"legend":null},"stroke":{"field":"sess","type":"nominal","scale":{"domain":["Sess 1","Sess 2","Sess 3","Sess 4","Ctrl"],"range":["#7a7a7a","#a9a9a9","#6b6b6b","#949494","#000000"]},"legend":null},"fill":{"value":"white"},"size":{"value":169}}},
{"data":{"name":"conf"},"transform":[{"filter":"datum.panel=='D'"}],"mark":{"type":"arc","clip":true,"theta":0,"theta2":6.2832,"fill":"white","fillOpacity":0,"stroke":"#111","strokeWidth":1.6,"strokeDash":[1.5,2.2]},"encoding":{"x":{"field":"cx","type":"quantitative","scale":{"domain":[0.283,1.228],"nice":false,"zero":false},"axis":null},"y":{"field":"cy","type":"quantitative","scale":{"domain":[-0.127,0.818],"nice":false,"zero":false},"axis":null},"radius":{"field":"r","type":"quantitative","stack":null,"scale":{"type":"linear","domain":[0,1],"range":[0,275.13],"zero":true,"nice":false}}}},
{"data":{"name":"labels"},"transform":[{"filter":"datum.panel=='D'"}],"mark":{"type":"text","align":"right","baseline":"alphabetic","font":"Liberation Sans","fontSize":27,"fontWeight":"bold","dx":-5,"color":"#1a1a1a"},"encoding":{"x":{"value":"width"},"y":{"value":26},"text":{"field":"letter"}}},
{"data":{"name":"labels"},"transform":[{"filter":"datum.panel=='D'"}],"mark":{"type":"text","align":"right","baseline":"alphabetic","font":"Open Sans","fontSize":14,"lineHeight":19.5,"dx":-7,"color":"#1a1a1a"},"encoding":{"x":{"value":"width"},"y":{"value":50},"text":{"field":"info"}}}
]},
{"width":260,"height":260,"resolve":{"axis":{"x":"independent","y":"independent"}},"layer":[
{"data":{"name":"levels"},"mark":{"type":"arc","clip":true,"theta":0,"theta2":6.2832,"fill":"white","fillOpacity":0,"stroke":"#9a9a9a","strokeWidth":1.5,"strokeDash":[9,8]},"encoding":{"x":{"field":"cx","type":"quantitative","scale":{"domain":[0.575,1.225],"nice":false,"zero":false},"axis":{"orient":"bottom","values":[0.6,0.7,0.8,0.9,1,1.1,1.2],"format":".1f","title":null}},"y":{"field":"cy","type":"quantitative","scale":{"domain":[-0.225,0.425],"nice":false,"zero":false},"axis":{"orient":"left","values":[-0.2,-0.1,0,0.1,0.2,0.3,0.4],"format":".1f","title":null,"minExtent":52,"maxExtent":52}},"radius":{"field":"r","type":"quantitative","stack":null,"scale":{"type":"linear","domain":[0,1],"range":[0,400],"zero":true,"nice":false}}}},
{"data":{"name":"unit"},"mark":{"type":"arc","clip":true,"theta":0,"theta2":6.2832,"fill":"white","fillOpacity":0,"stroke":"#111","strokeWidth":1.6},"encoding":{"x":{"field":"cx","type":"quantitative","scale":{"domain":[0.575,1.225],"nice":false,"zero":false},"axis":{"orient":"top","values":[0.6,0.7,0.8,0.9,1,1.1,1.2],"labels":false,"title":null,"minExtent":0,"maxExtent":0}},"y":{"field":"cy","type":"quantitative","scale":{"domain":[-0.225,0.425],"nice":false,"zero":false},"axis":{"orient":"right","values":[-0.2,-0.1,0,0.1,0.2,0.3,0.4],"labels":false,"title":null,"minExtent":0,"maxExtent":0}},"radius":{"field":"r","type":"quantitative","stack":null,"scale":{"type":"linear","domain":[0,1],"range":[0,400],"zero":true,"nice":false}}}},
{"data":{"name":"axisline"},"mark":{"type":"rule","clip":true,"stroke":"#111","strokeWidth":1.6},"encoding":{"x":{"field":"x","type":"quantitative","scale":{"domain":[0.575,1.225],"nice":false,"zero":false},"axis":null},"x2":{"field":"x2"},"y":{"field":"y","type":"quantitative","scale":{"domain":[-0.225,0.425],"nice":false,"zero":false},"axis":null}}},
{"data":{"name":"ci"},"transform":[{"filter":"datum.panel=='E'"}],"mark":{"type":"arc","clip":true,"theta":0,"theta2":6.2832,"fill":"white","fillOpacity":0,"stroke":"#b4b4b4","strokeWidth":1.4},"encoding":{"x":{"field":"cx","type":"quantitative","scale":{"domain":[0.575,1.225],"nice":false,"zero":false},"axis":null},"y":{"field":"cy","type":"quantitative","scale":{"domain":[-0.225,0.425],"nice":false,"zero":false},"axis":null},"radius":{"field":"r","type":"quantitative","stack":null,"scale":{"type":"linear","domain":[0,1],"range":[0,400],"zero":true,"nice":false}}}},
{"data":{"name":"pts"},"transform":[{"filter":"datum.panel=='E' && datum.memr=='no'"}],"mark":{"type":"point","clip":true,"opacity":1,"strokeWidth":1.7},"encoding":{"x":{"field":"re","type":"quantitative","scale":{"domain":[0.575,1.225],"nice":false,"zero":false},"axis":null},"y":{"field":"im","type":"quantitative","scale":{"domain":[-0.225,0.425],"nice":false,"zero":false},"axis":null},"shape":{"field":"sess","type":"nominal","scale":{"domain":["Sess 1","Sess 2","Sess 3","Sess 4","Ctrl"],"range":["M1,0A1,1,0,1,1,-1,0A1,1,0,1,1,1,0Z","M-0.85,-0.85L0.85,-0.85L0.85,0.85L-0.85,0.85Z","M0,-1.1L0.75,0L0,1.1L-0.75,0Z","M0,-1.1L0.26,-0.36L1.05,-0.34L0.42,0.14L0.65,0.89L0,0.44L-0.65,0.89L-0.42,0.14L-1.05,-0.34L-0.26,-0.36Z","M-0.8,-0.8L0.8,0.8M-0.8,0.8L0.8,-0.8"]},"legend":null},"stroke":{"field":"sess","type":"nominal","scale":{"domain":["Sess 1","Sess 2","Sess 3","Sess 4","Ctrl"],"range":["#7a7a7a","#a9a9a9","#6b6b6b","#949494","#000000"]},"legend":null},"fill":{"value":"white"},"size":{"value":169}}},
{"data":{"name":"conf"},"transform":[{"filter":"datum.panel=='E'"}],"mark":{"type":"arc","clip":true,"theta":0,"theta2":6.2832,"fill":"white","fillOpacity":0,"stroke":"#111","strokeWidth":1.6,"strokeDash":[1.5,2.2]},"encoding":{"x":{"field":"cx","type":"quantitative","scale":{"domain":[0.575,1.225],"nice":false,"zero":false},"axis":null},"y":{"field":"cy","type":"quantitative","scale":{"domain":[-0.225,0.425],"nice":false,"zero":false},"axis":null},"radius":{"field":"r","type":"quantitative","stack":null,"scale":{"type":"linear","domain":[0,1],"range":[0,400],"zero":true,"nice":false}}}},
{"data":{"name":"labels"},"transform":[{"filter":"datum.panel=='E'"}],"mark":{"type":"text","align":"right","baseline":"alphabetic","font":"Liberation Sans","fontSize":27,"fontWeight":"bold","dx":-5,"color":"#1a1a1a"},"encoding":{"x":{"value":"width"},"y":{"value":26},"text":{"field":"letter"}}},
{"data":{"name":"labels"},"transform":[{"filter":"datum.panel=='E'"}],"mark":{"type":"text","align":"right","baseline":"alphabetic","font":"Open Sans","fontSize":14,"lineHeight":19.5,"dx":-7,"color":"#1a1a1a"},"encoding":{"x":{"value":"width"},"y":{"value":50},"text":{"field":"info"}}}
]},
{"width":260,"height":260,"resolve":{"axis":{"x":"independent","y":"independent"}},"layer":[
{"data":{"name":"levels"},"mark":{"type":"arc","clip":true,"theta":0,"theta2":6.2832,"fill":"white","fillOpacity":0,"stroke":"#9a9a9a","strokeWidth":1.5,"strokeDash":[9,8]},"encoding":{"x":{"field":"cx","type":"quantitative","scale":{"domain":[0.575,1.225],"nice":false,"zero":false},"axis":{"orient":"bottom","values":[0.6,0.7,0.8,0.9,1,1.1,1.2],"format":".1f","title":null}},"y":{"field":"cy","type":"quantitative","scale":{"domain":[-0.225,0.425],"nice":false,"zero":false},"axis":{"orient":"left","values":[-0.2,-0.1,0,0.1,0.2,0.3,0.4],"format":".1f","title":null,"minExtent":34,"maxExtent":34}},"radius":{"field":"r","type":"quantitative","stack":null,"scale":{"type":"linear","domain":[0,1],"range":[0,400],"zero":true,"nice":false}}}},
{"data":{"name":"unit"},"mark":{"type":"arc","clip":true,"theta":0,"theta2":6.2832,"fill":"white","fillOpacity":0,"stroke":"#111","strokeWidth":1.6},"encoding":{"x":{"field":"cx","type":"quantitative","scale":{"domain":[0.575,1.225],"nice":false,"zero":false},"axis":{"orient":"top","values":[0.6,0.7,0.8,0.9,1,1.1,1.2],"labels":false,"title":null,"minExtent":0,"maxExtent":0}},"y":{"field":"cy","type":"quantitative","scale":{"domain":[-0.225,0.425],"nice":false,"zero":false},"axis":{"orient":"right","values":[-0.2,-0.1,0,0.1,0.2,0.3,0.4],"labels":false,"title":null,"minExtent":0,"maxExtent":0}},"radius":{"field":"r","type":"quantitative","stack":null,"scale":{"type":"linear","domain":[0,1],"range":[0,400],"zero":true,"nice":false}}}},
{"data":{"name":"axisline"},"mark":{"type":"rule","clip":true,"stroke":"#111","strokeWidth":1.6},"encoding":{"x":{"field":"x","type":"quantitative","scale":{"domain":[0.575,1.225],"nice":false,"zero":false},"axis":null},"x2":{"field":"x2"},"y":{"field":"y","type":"quantitative","scale":{"domain":[-0.225,0.425],"nice":false,"zero":false},"axis":null}}},
{"data":{"name":"ci"},"transform":[{"filter":"datum.panel=='F'"}],"mark":{"type":"arc","clip":true,"theta":0,"theta2":6.2832,"fill":"white","fillOpacity":0,"stroke":"#b4b4b4","strokeWidth":1.6},"encoding":{"x":{"field":"cx","type":"quantitative","scale":{"domain":[0.575,1.225],"nice":false,"zero":false},"axis":null},"y":{"field":"cy","type":"quantitative","scale":{"domain":[-0.225,0.425],"nice":false,"zero":false},"axis":null},"radius":{"field":"r","type":"quantitative","stack":null,"scale":{"type":"linear","domain":[0,1],"range":[0,400],"zero":true,"nice":false}}}},
{"data":{"name":"pts"},"transform":[{"filter":"datum.panel=='F' && datum.memr=='yes'"}],"mark":{"type":"point","clip":true,"opacity":1,"strokeWidth":1.5},"encoding":{"x":{"field":"re","type":"quantitative","scale":{"domain":[0.575,1.225],"nice":false,"zero":false},"axis":null},"y":{"field":"im","type":"quantitative","scale":{"domain":[-0.225,0.425],"nice":false,"zero":false},"axis":null},"shape":{"field":"sess","type":"nominal","scale":{"domain":["Sess 1","Sess 2","Sess 3","Sess 4","Ctrl"],"range":["M1,0A1,1,0,1,1,-1,0A1,1,0,1,1,1,0Z","M-0.85,-0.85L0.85,-0.85L0.85,0.85L-0.85,0.85Z","M0,-1.1L0.75,0L0,1.1L-0.75,0Z","M0,-1.1L0.26,-0.36L1.05,-0.34L0.42,0.14L0.65,0.89L0,0.44L-0.65,0.89L-0.42,0.14L-1.05,-0.34L-0.26,-0.36Z","M-0.8,-0.8L0.8,0.8M-0.8,0.8L0.8,-0.8"]},"legend":null},"stroke":{"field":"sess","type":"nominal","scale":{"domain":["Sess 1","Sess 2","Sess 3","Sess 4","Ctrl"],"range":["#7a7a7a","#a9a9a9","#6b6b6b","#949494","#000000"]},"legend":null},"fill":{"field":"sess","type":"nominal","scale":{"domain":["Sess 1","Sess 2","Sess 3","Sess 4"],"range":["#a8a8a8","#bdbdbd","#8a8a8a","#a0a0a0"]},"legend":null},"size":{"value":169}}},
{"data":{"name":"pts"},"transform":[{"filter":"datum.panel=='F' && datum.memr=='no'"}],"mark":{"type":"point","clip":true,"opacity":1,"strokeWidth":1.7},"encoding":{"x":{"field":"re","type":"quantitative","scale":{"domain":[0.575,1.225],"nice":false,"zero":false},"axis":null},"y":{"field":"im","type":"quantitative","scale":{"domain":[-0.225,0.425],"nice":false,"zero":false},"axis":null},"shape":{"field":"sess","type":"nominal","scale":{"domain":["Sess 1","Sess 2","Sess 3","Sess 4","Ctrl"],"range":["M1,0A1,1,0,1,1,-1,0A1,1,0,1,1,1,0Z","M-0.85,-0.85L0.85,-0.85L0.85,0.85L-0.85,0.85Z","M0,-1.1L0.75,0L0,1.1L-0.75,0Z","M0,-1.1L0.26,-0.36L1.05,-0.34L0.42,0.14L0.65,0.89L0,0.44L-0.65,0.89L-0.42,0.14L-1.05,-0.34L-0.26,-0.36Z","M-0.8,-0.8L0.8,0.8M-0.8,0.8L0.8,-0.8"]},"legend":null},"stroke":{"field":"sess","type":"nominal","scale":{"domain":["Sess 1","Sess 2","Sess 3","Sess 4","Ctrl"],"range":["#7a7a7a","#a9a9a9","#6b6b6b","#949494","#000000"]},"legend":null},"fill":{"value":"white"},"size":{"value":169}}},
{"data":{"name":"conf"},"transform":[{"filter":"datum.panel=='F'"}],"mark":{"type":"arc","clip":true,"theta":0,"theta2":6.2832,"fill":"white","fillOpacity":0,"stroke":"#111","strokeWidth":1.6,"strokeDash":[1.5,2.2]},"encoding":{"x":{"field":"cx","type":"quantitative","scale":{"domain":[0.575,1.225],"nice":false,"zero":false},"axis":null},"y":{"field":"cy","type":"quantitative","scale":{"domain":[-0.225,0.425],"nice":false,"zero":false},"axis":null},"radius":{"field":"r","type":"quantitative","stack":null,"scale":{"type":"linear","domain":[0,1],"range":[0,400],"zero":true,"nice":false}}}},
{"data":{"name":"labels"},"transform":[{"filter":"datum.panel=='F'"}],"mark":{"type":"text","align":"right","baseline":"alphabetic","font":"Liberation Sans","fontSize":27,"fontWeight":"bold","dx":-5,"color":"#1a1a1a"},"encoding":{"x":{"value":"width"},"y":{"value":26},"text":{"field":"letter"}}},
{"data":{"name":"labels"},"transform":[{"filter":"datum.panel=='F'"}],"mark":{"type":"text","align":"right","baseline":"alphabetic","font":"Open Sans","fontSize":14,"lineHeight":19.5,"dx":-7,"color":"#1a1a1a"},"encoding":{"x":{"value":"width"},"y":{"value":50},"text":{"field":"info"}}}
]}
],"spacing":1,"resolve":{"scale":{"x":"independent","y":"independent","radius":"independent","shape":"independent","stroke":"independent","fill":"independent"},"legend":{"shape":"independent","stroke":"independent","fill":"independent"}}}
]}],
"config":{
"view":{"stroke":"#111","strokeWidth":1.5},
"axis":{"domain":false,"grid":false,"ticks":true,"tickSize":-5,"tickColor":"#111","tickWidth":1.2,"labelFont":"Liberation Sans","labelFontSize":14,"labelColor":"#1a1a1a"},
"axisBottom":{"labelPadding":16,"minExtent":26,"maxExtent":26},
"axisLeft":{"labelPadding":18,"minExtent":41,"maxExtent":41}
}
}
